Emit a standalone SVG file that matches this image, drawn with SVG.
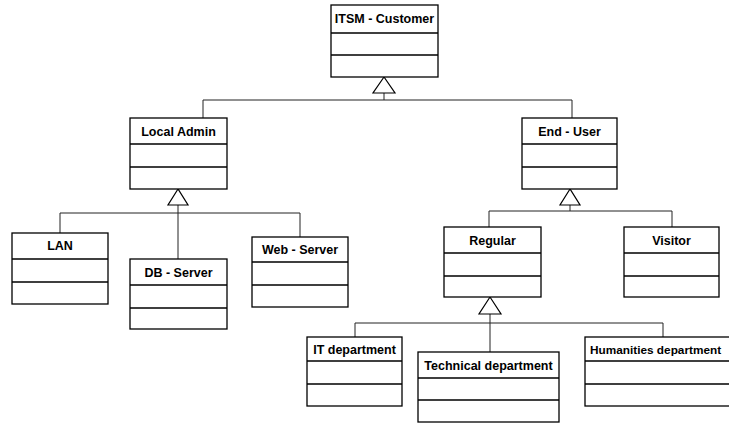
<svg xmlns="http://www.w3.org/2000/svg" width="729" height="423" viewBox="0 0 729 423">
<style>
.box{fill:#fff;stroke:#000;stroke-width:1.3}
.div{stroke:#000;stroke-width:1.3}
.lbl{font-family:"Liberation Sans",Arial,sans-serif;font-weight:bold;font-size:12.5px;text-anchor:middle;fill:#000}
.con{fill:none;stroke:#222;stroke-width:1}
.tri{fill:#fff;stroke:#000;stroke-width:1.2}
</style>
<rect width="729" height="423" fill="#fff"/>
<g id="connectors">
<path class="con" d="M384,93 V100 M203,118 V100 H572 V118"/>
<polygon class="tri" points="384,77 373,93 395,93"/>
<path class="con" d="M178,205 V259 M60,233 V213 H300 V237"/>
<polygon class="tri" points="178,189 168,205 188,205"/>
<path class="con" d="M570,205 V211 M489,227 V211 H672 V227"/>
<polygon class="tri" points="570,189 560,205 580,205"/>
<path class="con" d="M490,314 V352 M355,337 V323 H663 V337"/>
<polygon class="tri" points="490,297 479,314 501,314"/>
</g>
<g id="itsm-customer">
<rect class="box" x="331" y="5" width="107" height="72"/>
<path class="div" d="M331,33 H438 M331,55 H438"/>
<text class="lbl" x="384.5" y="23">ITSM - Customer</text>
</g>
<g id="local-admin">
<rect class="box" x="130" y="118" width="97" height="71"/>
<path class="div" d="M130,144 H227 M130,167 H227"/>
<text class="lbl" x="178.5" y="136">Local Admin</text>
</g>
<g id="end-user">
<rect class="box" x="522" y="118" width="95" height="71"/>
<path class="div" d="M522,144 H617 M522,167 H617"/>
<text class="lbl" x="569.5" y="136">End - User</text>
</g>
<g id="lan">
<rect class="box" x="12" y="233" width="96" height="71"/>
<path class="div" d="M12,259 H108 M12,282 H108"/>
<text class="lbl" x="60" y="250">LAN</text>
</g>
<g id="db-server">
<rect class="box" x="130" y="259" width="97" height="70"/>
<path class="div" d="M130,285 H227 M130,308 H227"/>
<text class="lbl" x="178.5" y="277">DB - Server</text>
</g>
<g id="web-server">
<rect class="box" x="252" y="237" width="96" height="70"/>
<path class="div" d="M252,262 H348 M252,285 H348"/>
<text class="lbl" x="300" y="254">Web - Server</text>
</g>
<g id="regular">
<rect class="box" x="444" y="227" width="97" height="70"/>
<path class="div" d="M444,253 H541 M444,276 H541"/>
<text class="lbl" x="492.5" y="245">Regular</text>
</g>
<g id="visitor">
<rect class="box" x="624" y="227" width="95" height="70"/>
<path class="div" d="M624,253 H719 M624,276 H719"/>
<text class="lbl" x="671.5" y="245">Visitor</text>
</g>
<g id="it-department">
<rect class="box" x="307" y="337" width="95" height="69"/>
<path class="div" d="M307,361 H402 M307,384 H402"/>
<text class="lbl" x="354.5" y="354">IT department</text>
</g>
<g id="technical-department">
<rect class="box" x="418" y="352" width="141" height="70"/>
<path class="div" d="M418,378 H559 M418,400 H559"/>
<text class="lbl" x="488.5" y="370">Technical department</text>
</g>
<g id="humanities-department">
<rect class="box" x="585" y="337" width="160" height="69"/>
<path class="div" d="M585,361 H745 M585,384 H745"/>
<text class="lbl" x="590" y="354" style="text-anchor:start;font-size:11.8px">Humanities department</text>
</g>
</svg>
